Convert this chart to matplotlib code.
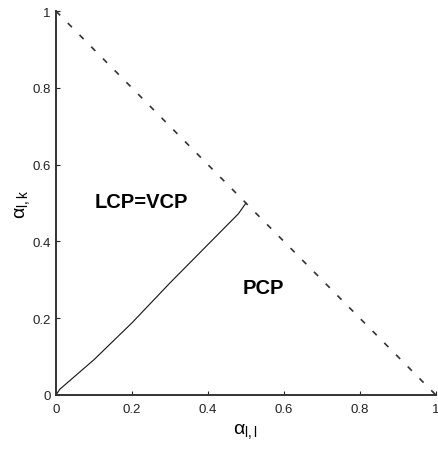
import numpy as np
import matplotlib
matplotlib.use("Agg")
import matplotlib.pyplot as plt

plt.rcParams['font.family'] = ['Liberation Sans', 'DejaVu Sans']

# boundary between regions
bound_x = [0.0, 0.01, 0.1, 0.2, 0.3, 0.4, 0.48, 0.5]
bound_y = [0.0, 0.015, 0.092, 0.188, 0.292, 0.392, 0.472, 0.5]

# simplex edge alpha_ll + alpha_lk = 1
edge_x = [0.0, 1.0]
edge_y = [1.0, 0.0]

ticks = [0, 0.2, 0.4, 0.6, 0.8, 1]
tick_labels = ['0', '0.2', '0.4', '0.6', '0.8', '1']

fig = plt.figure(figsize=(4.38, 4.52), dpi=100)
ax = fig.add_axes([0.128, 0.124, 0.867, 0.849])

ax.plot(bound_x, bound_y, color='#111111', lw=0.8)
ax.plot(edge_x, edge_y, color='#333333', lw=1.2, ls=(0, (3.5, 6.5)))

ax.text(0.225, 0.503, 'LCP=VCP', fontsize=14.5, fontweight='bold', ha='center', va='center')
ax.text(0.545, 0.28, 'PCP', fontsize=14.5, fontweight='bold', ha='center', va='center')

ax.set_xlim(0, 1)
ax.set_ylim(0, 1)
ax.set_xticks(ticks)
ax.set_xticklabels(tick_labels)
ax.set_yticks(ticks)
ax.set_yticklabels(tick_labels)
ax.tick_params(direction='in', length=3, labelsize=9.5, width=0.8, colors='#222222')
ax.tick_params(axis='x', pad=6)
ax.tick_params(axis='y', pad=4)
for s in ['top', 'right']:
    ax.spines[s].set_visible(False)
for s in ['left', 'bottom']:
    ax.spines[s].set_linewidth(1.4)
    ax.spines[s].set_color('#333333')

ax.set_xlabel(r'$\mathregular{\alpha_{l,l}}$', fontsize=14, labelpad=4)
ax.set_ylabel(r'$\mathregular{\alpha_{l,k}}$', fontsize=14, labelpad=0)

fig.savefig('out.png', dpi=100)
